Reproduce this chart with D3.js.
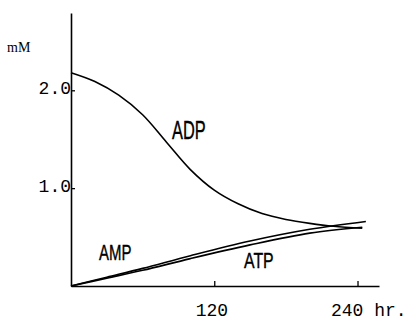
<!DOCTYPE html>
<html>
<head>
<meta charset="utf-8">
<script src="https://cdn.jsdelivr.net/npm/d3@7"></script>
<style>
  body { margin: 0; background: #fff; }
  svg { display: block; }
</style>
</head>
<body>
<div id="chart"></div>
<script>
// values (hours, mM)
const adpHours = [0, 20, 40, 60, 80, 100, 120, 140, 160, 180, 200, 220, 244]
const adpValues = [2.18, 2.09, 1.95, 1.75, 1.47, 1.19, 0.98, 0.84, 0.74, 0.68, 0.64, 0.61, 0.59]
const ampHours = [0, 30, 60, 100, 150, 200, 247]
const ampValues = [0, 0.09, 0.18, 0.31, 0.46, 0.58, 0.66]
const atpHours = [0, 30, 60, 100, 150, 200, 244]
const atpValues = [0, 0.08, 0.16, 0.28, 0.42, 0.54, 0.60]
const xTicks = [120, 240]
const xTickLabels = ['120', '240 hr.']
const yTicks = [1.0, 2.0]
const yTickLabels = ['1.0', '2.0']

const width = 411, height = 321

const svg = d3.select('#chart').append('svg')
    .attr('width', width)
    .attr('height', height)

const xScale = d3.scaleLinear().domain([0, 258]).range([71, 379])
const yScale = d3.scaleLinear().domain([0, 2.79]).range([286, 13])

// x axis, ticks pointing up
const xAxis = d3.axisBottom(xScale)
    .tickValues(xTicks)
    .tickFormat((d, i) => xTickLabels[i])
    .tickSizeInner(-5)
    .tickSizeOuter(0)
    .tickPadding(17)
const gx = svg.append('g')
    .attr('transform', `translate(0,${yScale(0)})`)
    .call(xAxis)
gx.select('.domain').attr('stroke-width', 1.6)
gx.selectAll('.tick line').attr('stroke-width', 1.3)
gx.selectAll('.tick text')
    .attr('font-family', '"Liberation Mono", "DejaVu Sans Mono", monospace')
    .attr('font-size', 18)
    .attr('fill', '#000')
    .attr('text-anchor', 'start')
    .attr('dx', (d, i) => i === 0 ? -19 : -27)

// y axis, ticks pointing right
const yAxis = d3.axisLeft(yScale)
    .tickValues(yTicks)
    .tickFormat((d, i) => yTickLabels[i])
    .tickSizeInner(-4)
    .tickSizeOuter(0)
    .tickPadding(0)
const gy = svg.append('g')
    .attr('transform', `translate(${xScale(0)},0)`)
    .call(yAxis)
gy.select('.domain').attr('stroke-width', 1.6)
gy.selectAll('.tick line').attr('stroke-width', 1.3)
gy.selectAll('.tick text')
    .attr('font-family', '"Liberation Mono", "DejaVu Sans Mono", monospace')
    .attr('font-size', 18)
    .attr('fill', '#000')
    .attr('dy', '0.2em')

svg.append('text')
    .attr('x', 7)
    .attr('y', 52)
    .attr('font-family', '"Liberation Serif", serif')
    .attr('font-size', 14)
    .text('mM')

const line = d3.line()
    .x(d => xScale(d[0]))
    .y(d => yScale(d[1]))
    .curve(d3.curveCatmullRom.alpha(0.5))

const series = [
    { name: 'ADP', hours: adpHours, values: adpValues },
    { name: 'AMP', hours: ampHours, values: ampValues },
    { name: 'ATP', hours: atpHours, values: atpValues }
]

svg.append('g')
    .selectAll('path')
    .data(series)
    .enter()
    .append('path')
    .attr('d', s => line(d3.zip(s.hours, s.values)))
    .attr('fill', 'none')
    .attr('stroke', '#000')
    .attr('stroke-width', 1.6)

// curve labels in a narrow sans face
const labels = [
    { text: 'ADP', x: 172, y: 139, size: 26, sx: 0.63 },
    { text: 'AMP', x: 99, y: 260, size: 22, sx: 0.68 },
    { text: 'ATP', x: 244, y: 268, size: 22, sx: 0.72 }
]
svg.append('g')
    .selectAll('text')
    .data(labels)
    .enter()
    .append('text')
    .attr('transform', d => `translate(${d.x},${d.y}) scale(${d.sx},1)`)
    .attr('font-family', '"Liberation Sans", Arial, sans-serif')
    .attr('font-size', d => d.size)
    .attr('stroke', '#000')
    .attr('stroke-width', 0.4)
    .text(d => d.text)
</script>
</body>
</html>
